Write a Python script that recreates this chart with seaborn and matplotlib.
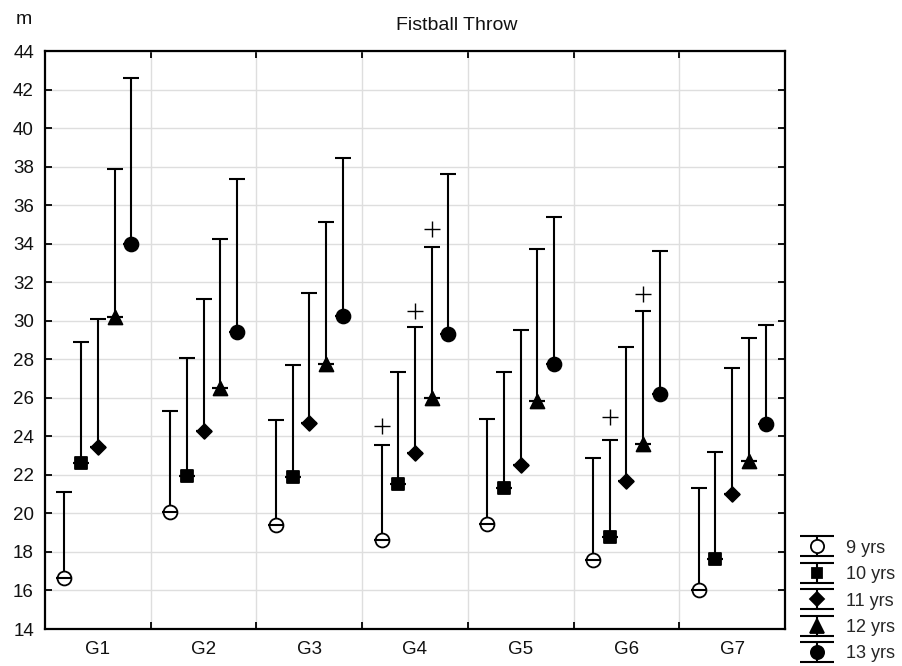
import numpy as np
import pandas as pd
import seaborn as sns
import matplotlib
matplotlib.use("Agg")
import matplotlib.pyplot as plt
from matplotlib.lines import Line2D
from matplotlib.container import ErrorbarContainer
from matplotlib.legend_handler import HandlerErrorbar

# ---- data: group means and upper whisker ends (m) ----
groups = ["G1", "G2", "G3", "G4", "G5", "G6", "G7"]
ages = ["9 yrs", "10 yrs", "11 yrs", "12 yrs", "13 yrs"]

mean_9 = [16.65, 20.05, 19.41, 18.60, 19.45, 17.60, 16.00]
mean_10 = [22.61, 21.95, 21.88, 21.53, 21.33, 18.78, 17.65]
mean_11 = [23.45, 24.28, 24.69, 23.13, 22.52, 21.70, 21.03]
mean_12 = [30.20, 26.50, 27.78, 26.00, 25.83, 23.60, 22.72]
mean_13 = [33.96, 29.43, 30.22, 29.30, 27.78, 26.20, 24.65]

upper_9 = [21.09, 25.30, 24.87, 23.57, 24.90, 22.86, 21.34]
upper_10 = [28.89, 28.05, 27.70, 27.36, 27.34, 23.81, 23.17]
upper_11 = [30.10, 31.13, 31.45, 29.70, 29.53, 28.62, 27.54]
upper_12 = [37.88, 34.26, 35.10, 33.83, 33.74, 30.52, 29.10]
upper_13 = [42.61, 37.36, 38.43, 37.60, 35.40, 33.64, 29.80]

# significance marks ("+") above selected whiskers
plus_group = ["G4", "G4", "G4", "G6", "G6"]
plus_age = ["9 yrs", "11 yrs", "12 yrs", "10 yrs", "12 yrs"]
plus_value = [24.55, 30.52, 34.78, 25.00, 31.38]

means = [mean_9, mean_10, mean_11, mean_12, mean_13]
uppers = [upper_9, upper_10, upper_11, upper_12, upper_13]

rows = []
for age, m_list, u_list in zip(ages, means, uppers):
    for g, m, u in zip(groups, m_list, u_list):
        rows.append({"group": g, "age": age, "mean": m, "upper": u})
df = pd.DataFrame(rows)

step = 0.158  # horizontal dodge between age classes inside a group
df["x"] = df["group"].map(groups.index) + (df["age"].map(ages.index) - 2) * step

plus_df = pd.DataFrame({"group": plus_group, "age": plus_age, "value": plus_value})
plus_df["x"] = plus_df["group"].map(groups.index) + (plus_df["age"].map(ages.index) - 2) * step

# ---- style ----
sns.set_theme(style="ticks")
plt.rcParams["font.family"] = ["Liberation Sans", "DejaVu Sans"]

marker_style = {
    "9 yrs": dict(marker="o", size=10.0, face="white"),
    "10 yrs": dict(marker="s", size=8.0, face="black"),
    "11 yrs": dict(marker="D", size=7.5, face="black"),
    "12 yrs": dict(marker="^", size=10.0, face="black"),
    "13 yrs": dict(marker="o", size=10.0, face="black"),
}

fig = plt.figure(figsize=(9.03, 6.66), dpi=100)
ax = fig.add_axes([45 / 903, 37 / 666, 740 / 903, 578 / 666])

lw = 1.5
capsize = 6.0
legend_handles = []
for age in ages:
    sub = df[df["age"] == age]
    st = marker_style[age]
    eb = ax.errorbar(
        sub["x"], sub["mean"],
        yerr=[np.zeros(len(sub)), sub["upper"] - sub["mean"]],
        fmt="none", ecolor="black", elinewidth=lw,
        capsize=capsize, capthick=lw, zorder=2,
    )
    sns.scatterplot(
        data=sub, x="x", y="mean", ax=ax, marker=st["marker"],
        s=st["size"] ** 2, facecolor=st["face"], edgecolor="black",
        linewidth=1.3, zorder=3, legend=False,
    )
    # short horizontal tick marking the mean on top of the marker
    ax.plot(sub["x"], sub["mean"], ls="none", marker="_", ms=capsize * 2,
            mew=lw, color="black", zorder=4)

    proxy_marker = Line2D([], [], ls="none", marker=st["marker"],
                          ms=st["size"] * 0.95, mfc=st["face"], mec="black",
                          mew=1.3)
    proxy_cap = Line2D([], [], ls="none", marker="_", ms=24, mew=lw,
                       color="black")
    handle = ErrorbarContainer((proxy_marker, (proxy_cap, proxy_cap),
                                eb.lines[2]), has_xerr=False, has_yerr=True)
    legend_handles.append(handle)

ax.scatter(plus_df["x"], plus_df["value"], marker="+", s=12 ** 2,
           linewidths=1.0, color="black", zorder=3)

# ---- axes ----
ax.set_xlim(-0.5, len(groups) - 0.5)
ax.set_ylim(14, 44)
ax.set_xticks(np.arange(0.5, len(groups) - 0.5, 1.0))
ax.set_xticks(np.arange(len(groups)), minor=True)
ax.set_xticklabels([])
ax.set_xticklabels(groups, minor=True)
ax.set_yticks(np.arange(14, 45, 2))
ax.set_xlabel("")
ax.set_ylabel("")

ax.grid(True, which="major", color="#dedede", lw=1.0)
ax.set_axisbelow(True)
for sp in ax.spines.values():
    sp.set_visible(True)
    sp.set_color("black")
    sp.set_linewidth(1.6)

ax.tick_params(axis="both", which="major", direction="in", length=5,
               width=1.3, color="black", top=True, right=True,
               labelsize=13.5, labelcolor="#111111")
ax.tick_params(axis="y", pad=8)
ax.tick_params(axis="x", which="minor", length=0, pad=9, labelsize=13.5,
               labelcolor="#111111")

fig.text(457 / 903, 1 - 30.5 / 666, "Fistball Throw", ha="center",
         va="baseline", fontsize=14, color="#111111")
fig.text(24 / 903, 1 - 24 / 666, "m", ha="center", va="baseline",
         fontsize=14, color="#111111")

fig.legend(
    legend_handles, ages, loc="center left",
    bbox_to_anchor=(800 / 903, 1 - 601 / 666),
    frameon=False, fontsize=13, numpoints=1,
    handlelength=1.85, handletextpad=0.7, labelspacing=0.52,
    borderpad=0, borderaxespad=0,
    handler_map={ErrorbarContainer: HandlerErrorbar(yerr_size=0.55)},
)

fig.savefig("out.png", dpi=100)
